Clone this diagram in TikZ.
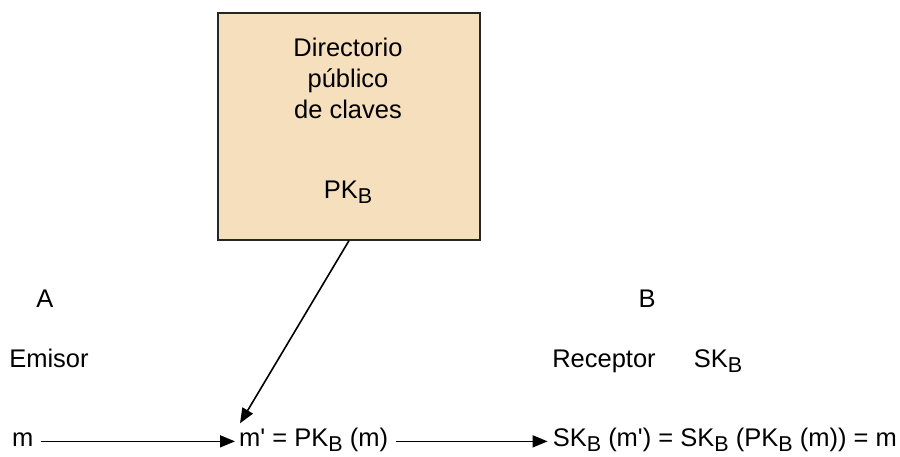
\documentclass[tikz,border=0pt]{standalone}
\usepackage{fontspec}
\setmainfont{Liberation Sans}
\usetikzlibrary{arrows.meta,calc}
\definecolor{boxfill}{RGB}{245,223,189}
% subscript B, set slightly smaller and dropped below the baseline
\newcommand\subB{\raisebox{-5pt}{\fontsize{21.5}{21.5}\selectfont B}}
% straight apostrophe for the primes
\newcommand\prm{\textquotesingle}

\begin{document}
\begin{tikzpicture}[x=1pt,y=-1pt,
  font=\fontsize{25.5}{31}\selectfont,
  lbl/.style={inner sep=0pt},
  conn/.style={line width=1.6pt,-{Triangle[length=15pt,width=12pt]}}]
\useasboundingbox (0,0) rectangle (900,457);

% public key directory
\node[draw=black!85,line width=1.8pt,fill=boxfill,minimum width=262pt,
      minimum height=227pt,inner sep=0pt,anchor=north west] (dir) at (217,12) {};
\node[lbl,anchor=base] (d1) at (348,57)  {Directorio};
\node[lbl,anchor=base] (d2) at (348,88)  {público};
\node[lbl,anchor=base] (d3) at (348,119) {de claves};
\node[lbl,anchor=base] (pk) at (348,199) {PK\subB};

% sender and receiver
\node[lbl,anchor=base] (A)  at (45,307)  {A};
\node[lbl,anchor=base] (em) at (49,367)  {Emisor};
\node[lbl,anchor=base] (B)  at (647,307) {B};
\node[lbl,anchor=base] (rc) at (604,367) {Receptor};
\node[lbl,anchor=base] (sk) at (718,367) {SK\subB};

% message flow
\node[lbl,anchor=base west] (m)   at (12,446)  {m};
\node[lbl,anchor=base west] (mp)  at (239,446) {m\prm{} = PK\subB{} (m)};
\node[lbl,anchor=base east] (res) at (897,446) {SK\subB{} (m\prm) = SK\subB{} (PK\subB{} (m)) = m};

\draw[conn,shorten <=7pt,shorten >=4pt]
  ([yshift=2pt]m.mid east) -- ([yshift=2pt]mp.mid west);
\draw[conn,shorten <=8pt,shorten >=5pt]
  ([yshift=2pt]mp.mid east) -- ([yshift=2pt]res.mid west);

\coordinate (tip) at ($(mp.north west)+(1,-4)$);
\draw[conn] (dir.south) -- (tip);
\end{tikzpicture}
\end{document}
